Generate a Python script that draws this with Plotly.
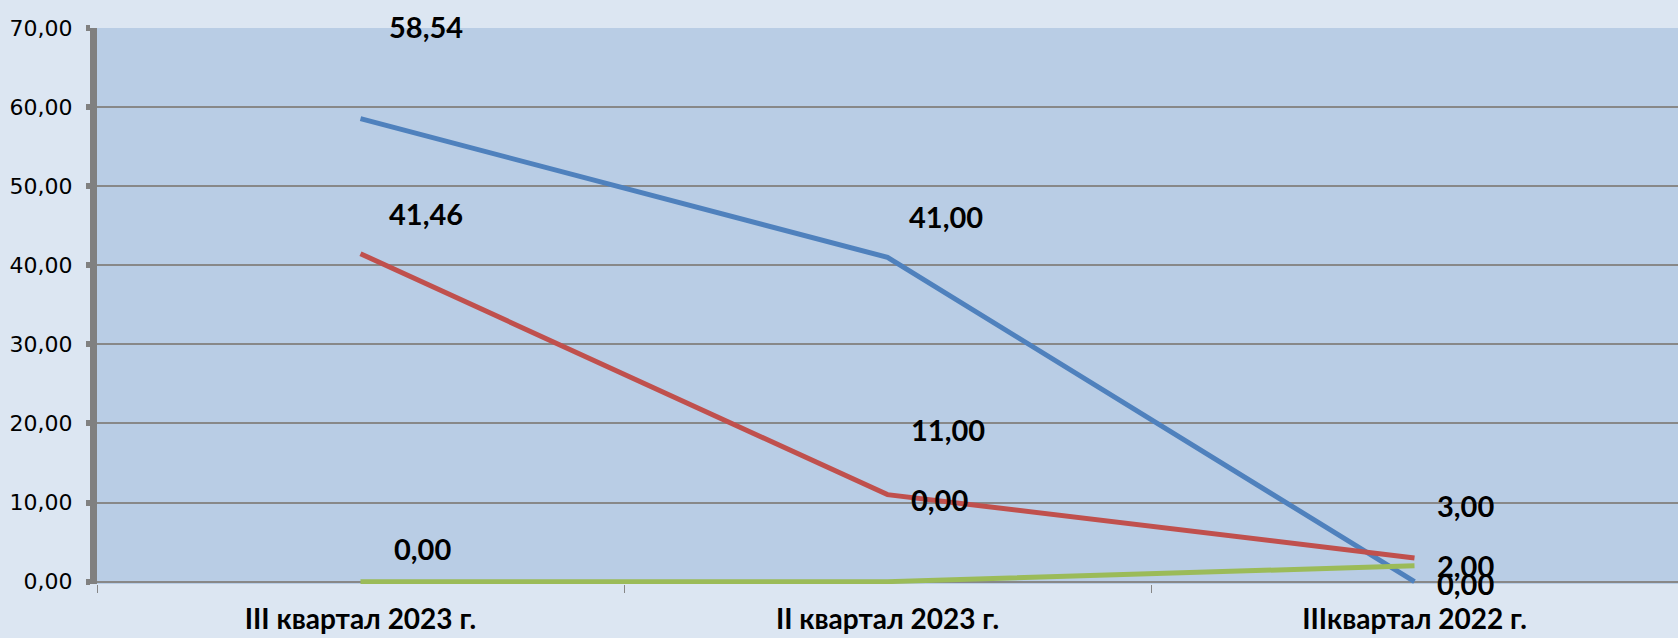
import plotly.graph_objects as go

categories = ["III квартал 2023 г.", "II квартал 2023 г.", "IIIквартал 2022 г."]
series_blue = [58.54, 41.00, 0.00]
series_red = [41.46, 11.00, 3.00]
series_green = [0.00, 0.00, 2.00]
y_ticks = [0, 10, 20, 30, 40, 50, 60, 70]

colors = {"blue": "#4F81BD", "red": "#C0504D", "green": "#9BBB59"}
# label offsets (px) relative to each point: (xshift, yshift)
label_offsets = {
    "blue": [(65, 92), (58, 41), (51, -2)],
    "red": [(65, 40), (60, 65), (51, 52)],
    "green": [(62, 33), (52, 82), (51, 0)],
}

fig = go.Figure()
series = [("blue", series_blue), ("red", series_red), ("green", series_green)]
for name, vals in series:
    fig.add_trace(go.Scatter(
        x=categories, y=vals, mode="lines",
        line=dict(color=colors[name], width=5),
        cliponaxis=False, showlegend=False, hoverinfo="skip",
    ))

for name, vals in series:
    for i, v in enumerate(vals):
        dx, dy = label_offsets[name][i]
        fig.add_annotation(
            x=categories[i], y=v, xref="x", yref="y",
            text=f"{v:.2f}".replace(".", ","), showarrow=False,
            xshift=dx, yshift=dy,
            font=dict(family="Lato", size=29, color="#000000", weight="bold"),
        )

fig.update_layout(
    width=1678, height=638,
    margin=dict(l=97, r=0, t=28, b=54),
    paper_bgcolor="#DCE6F2",
    plot_bgcolor="#B9CDE5",
    separators=", ",
    showlegend=False,
)
fig.update_xaxes(
    type="category", range=[-0.5, 2.5],
    showgrid=False, zeroline=False,
    showline=False,
    ticks="outside", tickson="boundaries", ticklen=8, tickwidth=1, tickcolor="#868686",
    tickfont=dict(family="Lato", size=28, color="#000000", weight="bold"),
    ticklabelstandoff=16,
)
fig.update_yaxes(
    range=[-0.3, 70], tickvals=y_ticks, tickformat=".2f",
    showgrid=True, gridcolor="#888888", gridwidth=1.5,
    zeroline=True, zerolinecolor="#888888", zerolinewidth=1.5,
    showline=True, linecolor="#808080", linewidth=7,
    ticks="outside", ticklen=4, tickwidth=6, tickcolor="#808080",
    tickfont=dict(family="DejaVu Sans", size=22, color="#000000"),
    ticklabelstandoff=9,
)

fig.write_html("out.html", config={"displayModeBar": False},
               post_script="document.body.style.margin='0';")
